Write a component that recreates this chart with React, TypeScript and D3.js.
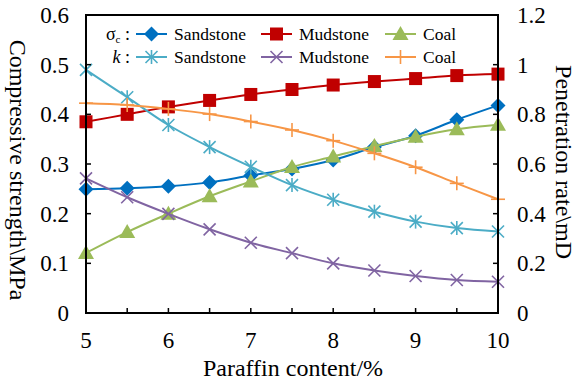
import * as d3 from "d3";

const paraffin = [5, 5.5, 6, 6.5, 7, 7.5, 8, 8.5, 9, 9.5, 10];

// compressive strength, MPa (left axis)
const sigmaSandstone = [0.249, 0.251, 0.255, 0.263, 0.277, 0.29, 0.308, 0.334, 0.357, 0.389, 0.418];
const sigmaMudstone = [0.385, 0.4, 0.415, 0.428, 0.44, 0.45, 0.459, 0.466, 0.472, 0.478, 0.481];
const sigmaCoal = [0.121, 0.163, 0.2, 0.235, 0.265, 0.294, 0.315, 0.336, 0.355, 0.37, 0.379];

// penetration rate, mD (right axis)
const kSandstone = [0.979, 0.869, 0.757, 0.668, 0.589, 0.515, 0.456, 0.408, 0.368, 0.342, 0.328];
const kMudstone = [0.542, 0.466, 0.399, 0.337, 0.283, 0.241, 0.2, 0.171, 0.149, 0.133, 0.126];
const kCoal = [0.845, 0.838, 0.822, 0.801, 0.771, 0.737, 0.694, 0.643, 0.587, 0.522, 0.458];

const xTicks = [5, 6, 7, 8, 9, 10];
const xMinor = [5.5, 6.5, 7.5, 8.5, 9.5];
const leftTicks = [0, 0.1, 0.2, 0.3, 0.4, 0.5, 0.6];
const rightTicks = [0, 0.2, 0.4, 0.6, 0.8, 1, 1.2];

const W = 577;
const H = 381;
const m = { left: 86, right: 498, top: 15, bottom: 313 };
const FONT = "Liberation Serif";
const tf = { fontFamily: FONT };

type Marker = "diamond" | "square" | "triangle" | "asterisk" | "cross" | "plus";

const series: { name: string; values: number[]; axis: "L" | "R"; color: string; marker: Marker }[] = [
  { name: "Sandstone", values: sigmaSandstone, axis: "L", color: "#0070C0", marker: "diamond" },
  { name: "Mudstone", values: sigmaMudstone, axis: "L", color: "#C00000", marker: "square" },
  { name: "Coal", values: sigmaCoal, axis: "L", color: "#9BBB59", marker: "triangle" },
  { name: "Sandstone", values: kSandstone, axis: "R", color: "#4BACC6", marker: "asterisk" },
  { name: "Mudstone", values: kMudstone, axis: "R", color: "#8064A2", marker: "cross" },
  { name: "Coal", values: kCoal, axis: "R", color: "#F79646", marker: "plus" },
];

function MarkerShape({ type, x, y, color }: { type: Marker; x: number; y: number; color: string }) {
  const s = 6.5;
  switch (type) {
    case "diamond":
      return <path d={`M${x},${y - 7.5}L${x + 7.5},${y}L${x},${y + 7.5}L${x - 7.5},${y}Z`} fill={color} />;
    case "square":
      return <rect x={x - s} y={y - s} width={2 * s} height={2 * s} fill={color} />;
    case "triangle":
      return <path d={`M${x},${y - 8}L${x + 8},${y + 6}L${x - 8},${y + 6}Z`} fill={color} />;
    case "asterisk":
      return (
        <g stroke={color} strokeWidth={1.6}>
          <line x1={x - 6} y1={y - 6} x2={x + 6} y2={y + 6} />
          <line x1={x - 6} y1={y + 6} x2={x + 6} y2={y - 6} />
          <line x1={x} y1={y - 7} x2={x} y2={y + 7} />
        </g>
      );
    case "cross":
      return (
        <g stroke={color} strokeWidth={1.6}>
          <line x1={x - 6} y1={y - 6} x2={x + 6} y2={y + 6} />
          <line x1={x - 6} y1={y + 6} x2={x + 6} y2={y - 6} />
        </g>
      );
    case "plus":
      return (
        <g stroke={color} strokeWidth={1.6}>
          <line x1={x - 7} y1={y} x2={x + 7} y2={y} />
          <line x1={x} y1={y - 7} x2={x} y2={y + 7} />
        </g>
      );
  }
}

export default function App() {
  const x = d3.scaleLinear().domain([5, 10]).range([m.left, m.right]);
  const yL = d3.scaleLinear().domain([0, 0.6]).range([m.bottom, m.top]);
  const yR = d3.scaleLinear().domain([0, 1.2]).range([m.bottom, m.top]);

  const legendRows = [
    { label: "σ", y: 34, items: series.slice(0, 3) },
    { label: "k", y: 57, items: series.slice(3) },
  ];
  const legendCols = [136, 261, 385];

  return (
    <svg width={W} height={H} fontFamily={FONT} style={{ position: "absolute", left: 0, top: 0, fontFamily: FONT }}>
      <rect width={W} height={H} fill="#fff" />

      {series.map((s, i) => {
        const y = s.axis === "L" ? yL : yR;
        const line = d3
          .line<number>()
          .x((_, j) => x(paraffin[j]))
          .y((d) => y(d))
          .curve(d3.curveCatmullRom.alpha(0.5));
        return (
          <g key={i}>
            <path d={line(s.values) || ""} fill="none" stroke={s.color} strokeWidth={2} />
            {s.values.map((v, j) => (
              <MarkerShape key={j} type={s.marker} x={x(paraffin[j])} y={y(v)} color={s.color} />
            ))}
          </g>
        );
      })}

      {/* frame */}
      <rect x={m.left} y={m.top} width={m.right - m.left} height={m.bottom - m.top} fill="none" stroke="#000" strokeWidth={2} />

      {/* x ticks */}
      {xTicks.concat(xMinor).map((t) => (
        <line key={t} x1={x(t)} x2={x(t)} y1={m.bottom} y2={m.bottom - 5} stroke="#000" strokeWidth={1.5} />
      ))}
      {xTicks.map((t) => (
        <text key={t} x={x(t)} y={348} textAnchor="middle" fontSize={23} fontFamily={FONT} style={tf}>
          {t}
        </text>
      ))}
      <text x={(m.left + m.right) / 2 + 1} y={376} textAnchor="middle" fontSize={24} fontFamily={FONT} style={tf}>
        Paraffin content/%
      </text>

      {/* left axis */}
      {leftTicks.map((t) => (
        <g key={t}>
          <line x1={m.left} x2={m.left + 5} y1={yL(t)} y2={yL(t)} stroke="#000" strokeWidth={1.5} />
          <text x={69} y={yL(t) + 8} textAnchor="end" fontSize={23} fontFamily={FONT} style={tf}>
            {t}
          </text>
        </g>
      ))}
      <text transform={`translate(18,170) rotate(90)`} textAnchor="middle" dominantBaseline="central" fontSize={24} fontFamily={FONT} style={tf}>
        Compressive strength\MPa
      </text>

      {/* right axis */}
      {rightTicks.map((t) => (
        <g key={t}>
          <line x1={m.right} x2={m.right - 5} y1={yR(t)} y2={yR(t)} stroke="#000" strokeWidth={1.5} />
          <text x={517} y={yR(t) + 8} textAnchor="start" fontSize={23} fontFamily={FONT} style={tf}>
            {t}
          </text>
        </g>
      ))}
      <text transform={`translate(564,162) rotate(90)`} textAnchor="middle" dominantBaseline="central" fontSize={24} fontFamily={FONT} style={tf}>
        Penetration rate\mD
      </text>

      {/* legend */}
      {legendRows.map((r, ri) => (
        <g key={ri}>
          <text x={130} y={r.y + 6} textAnchor="end" fontSize={18} fontStyle={ri === 1 ? "italic" : "normal"} fontFamily={FONT} style={tf}>
            {r.label}
            {ri === 0 && (
              <tspan fontSize={11} dy={3} fontStyle="normal">
                c
              </tspan>
            )}
            <tspan fontStyle="normal" dy={ri === 0 ? -3 : 0}>
              {" :"}
            </tspan>
          </text>
          {r.items.map((s, i) => (
            <g key={i}>
              <line x1={legendCols[i]} x2={legendCols[i] + 31} y1={r.y} y2={r.y} stroke={s.color} strokeWidth={2} />
              <MarkerShape type={s.marker} x={legendCols[i] + 15.5} y={r.y} color={s.color} />
              <text x={legendCols[i] + 38} y={r.y + 6} fontSize={17.5} fontFamily={FONT} style={tf}>
                {s.name}
              </text>
            </g>
          ))}
        </g>
      ))}
    </svg>
  );
}
